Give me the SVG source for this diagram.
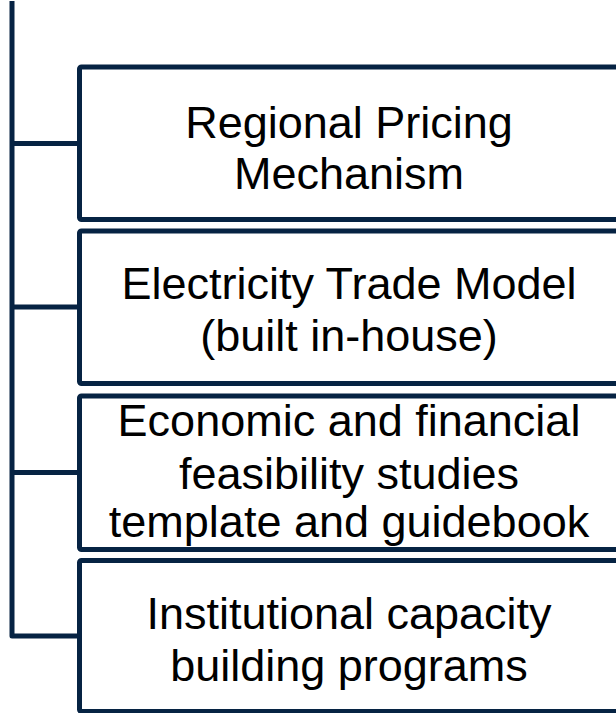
<svg xmlns="http://www.w3.org/2000/svg" width="616" height="713" viewBox="0 0 616 713">
<style>
.box{fill:#ffffff;stroke:#062343;stroke-width:5;}
.conn{fill:none;stroke:#062343;stroke-width:5;stroke-linejoin:round;}
.lbl{font-family:"Liberation Sans",Arial,sans-serif;font-size:45px;fill:#000000;text-anchor:middle;}
</style>
<rect x="0" y="0" width="616" height="713" fill="#ffffff"/>
<g id="connectors">
<path class="conn" d="M12,1 V636 H80"/>
<path class="conn" d="M12,143.5 H80"/>
<path class="conn" d="M12,307 H80"/>
<path class="conn" d="M12,472.5 H80"/>
</g>
<g id="node1">
<rect class="box" x="79.5" y="67" width="560" height="152.5" rx="2"/>
<text class="lbl" x="349" y="138">Regional Pricing</text>
<text class="lbl" x="349" y="189">Mechanism</text>
</g>
<g id="node2">
<rect class="box" x="79.5" y="231" width="560" height="152.5" rx="2"/>
<text class="lbl" x="349" y="299">Electricity Trade Model</text>
<text class="lbl" x="349" y="351">(built in-house)</text>
</g>
<g id="node3">
<rect class="box" x="79.5" y="396" width="560" height="153.5" rx="2"/>
<text class="lbl" x="349" y="436">Economic and financial</text>
<text class="lbl" x="349" y="489">feasibility studies</text>
<text class="lbl" x="349" y="537">template and guidebook</text>
</g>
<g id="node4">
<rect class="box" x="79.5" y="560.5" width="560" height="151" rx="2"/>
<text class="lbl" x="349" y="629">Institutional capacity</text>
<text class="lbl" x="349" y="681">building programs</text>
</g>
</svg>
